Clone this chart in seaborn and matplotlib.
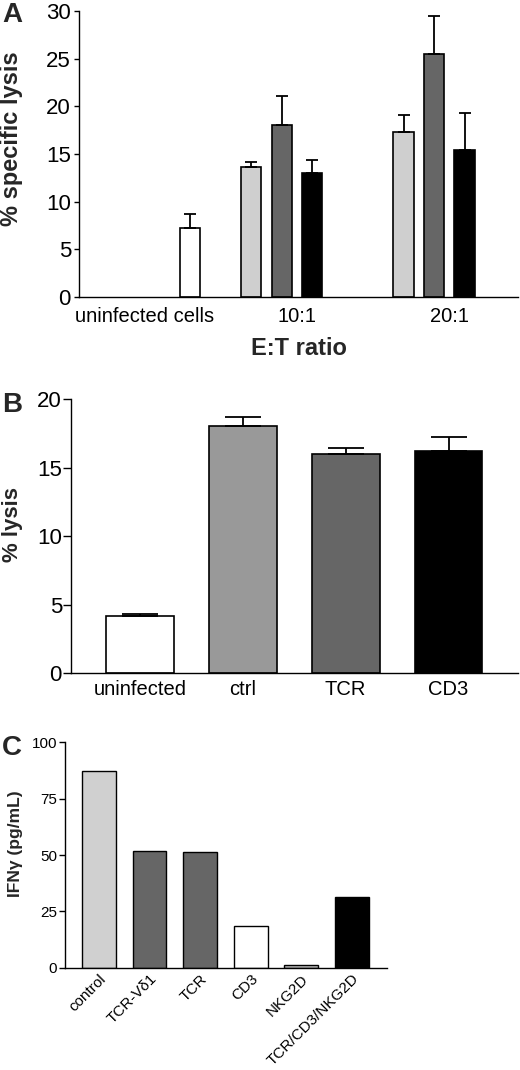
import matplotlib
matplotlib.use("Agg")
import matplotlib.pyplot as plt
from matplotlib.container import BarContainer
import seaborn as sns
import pandas as pd

# --- datos panel A ---
grupos_a = ["uninfected cells", "10:1", "20:1"]
series_a = ["s_light", "s_dark", "s_black", "s_white"]
grupo_a = ["uninfected cells", "10:1", "10:1", "10:1", "20:1", "20:1", "20:1"]
serie_a = ["s_white", "s_light", "s_dark", "s_black", "s_light", "s_dark", "s_black"]
lisis_a = [7.2, 13.6, 18.0, 13.0, 17.3, 25.5, 15.4]
err_a = [1.5, 0.6, 3.1, 1.4, 1.8, 4.0, 3.9]
colores_a = {"s_light": "#cfcfcf", "s_dark": "#666666", "s_black": "#000000", "s_white": "#ffffff"}

# --- datos panel B ---
cat_b = ["uninfected", "ctrl", "TCR", "CD3"]
lisis_b = [4.15, 18.0, 16.0, 16.2]
err_b = [0.15, 0.7, 0.4, 1.0]
colores_b = ["#ffffff", "#999999", "#666666", "#000000"]

# --- datos panel C ---
cat_c = ["control", "TCR-Vδ1", "TCR", "CD3", "NKG2D", "TCR/CD3/NKG2D"]
ifn_c = [87.4, 51.9, 51.4, 18.6, 1.0, 31.5]
colores_c = ["#d0d0d0", "#666666", "#666666", "#ffffff", "#bbbbbb", "#000000"]

sns.set_style("ticks")
plt.rcParams["font.family"] = ["Liberation Sans", "DejaVu Sans"]

fig = plt.figure(figsize=(5.2, 10.7), dpi=100)


def estilo(ax, ysize, xsize, ylen=4, ypad=2, xpad=7):
    sns.despine(ax=ax)
    for s in ["left", "bottom"]:
        ax.spines[s].set_linewidth(1.0)
        ax.spines[s].set_color("black")
    ax.tick_params(axis="y", length=ylen, width=1, labelsize=ysize, pad=ypad, colors="black")
    ax.tick_params(axis="x", length=0, labelsize=xsize, pad=xpad, colors="black")


# ---------- A ----------
axA = fig.add_axes([0.152, 0.7224, 0.844, 0.2673])
df_a = pd.DataFrame({"grupo": grupo_a, "serie": serie_a, "lisis": lisis_a, "err": err_a})
sns.barplot(data=df_a, x="grupo", y="lisis", hue="serie", order=grupos_a,
            hue_order=series_a, palette=colores_a, saturation=1, width=0.8,
            gap=0.33, edgecolor="black", linewidth=1.2, legend=False, errorbar=None, ax=axA)
barras_a = [c for c in axA.containers if isinstance(c, BarContainer)]
for i, cont in enumerate(barras_a):
    for barra in cont:
        xc = barra.get_x() + barra.get_width() / 2
        fila = df_a[(df_a["serie"] == series_a[i]) & (df_a["grupo"] == grupos_a[int(round(xc))])]
        if fila.empty:
            continue
        axA.errorbar(xc, fila["lisis"].iloc[0], yerr=[[0], [fila["err"].iloc[0]]],
                     fmt="none", ecolor="black", elinewidth=1.3, capsize=4.3, capthick=1.3,
                     zorder=1)
axA.set_ylim(0, 30)
axA.set_xlim(-0.43, 2.45)
axA.set_yticks([0, 5, 10, 15, 20, 25, 30])
estilo(axA, 16, 14.5, ylen=3.8)
axA.set_ylabel("% specific lysis", fontsize=17, fontweight="bold")
axA.yaxis.set_label_coords(-0.1276, 0.554)
axA.set_xlabel("E:T ratio", fontsize=17, fontweight="bold")
axA.xaxis.set_label_coords(0.5, -0.138)
fig.text(0.004, 0.986, "A", fontsize=20, fontweight="bold", va="center")

# ---------- B ----------
axB = fig.add_axes([0.1365, 0.3707, 0.8596, 0.2564])
sns.barplot(x=cat_b, y=lisis_b, hue=cat_b, palette=colores_b, saturation=1,
            width=0.66, edgecolor="black", linewidth=1.2, legend=False, errorbar=None, ax=axB)
for barra, v, e in zip(list(axB.patches), lisis_b, err_b):
    xc = barra.get_x() + barra.get_width() / 2
    axB.errorbar(xc, v, yerr=[[0], [e]], fmt="none", ecolor="black", elinewidth=1.3,
                 capsize=13, capthick=1.3, zorder=1)
axB.set_ylim(0, 20)
axB.set_xlim(-0.67, 3.675)
axB.set_yticks([0, 5, 10, 15, 20])
estilo(axB, 16, 14.5, ylen=5.5, ypad=1, xpad=5)
axB.set_ylabel("% lysis", fontsize=16, fontweight="bold")
axB.yaxis.set_label_coords(-0.107, 0.544)
fig.text(0.004, 0.6215, "B", fontsize=20, fontweight="bold", va="center")

# ---------- C ----------
axC = fig.add_axes([0.125, 0.0956, 0.619, 0.2106])
sns.barplot(x=cat_c, y=ifn_c, hue=cat_c, palette=colores_c, saturation=1,
            width=0.67, edgecolor="black", linewidth=1.0, legend=False, errorbar=None, ax=axC)
axC.set_ylim(0, 100)
axC.set_xlim(-0.67, 5.69)
axC.set_yticks([0, 25, 50, 75, 100])
estilo(axC, 11, 11, ylen=4.3, ypad=1.5, xpad=3)
plt.setp(axC.get_xticklabels(), rotation=45, ha="right", rotation_mode="anchor")
axC.set_ylabel("IFNγ (pg/mL)", fontsize=12.5, fontweight="bold")
axC.yaxis.set_label_coords(-0.130, 0.551)
fig.text(0.004, 0.301, "C", fontsize=20, fontweight="bold", va="center")

fig.savefig("out.png", dpi=100)
